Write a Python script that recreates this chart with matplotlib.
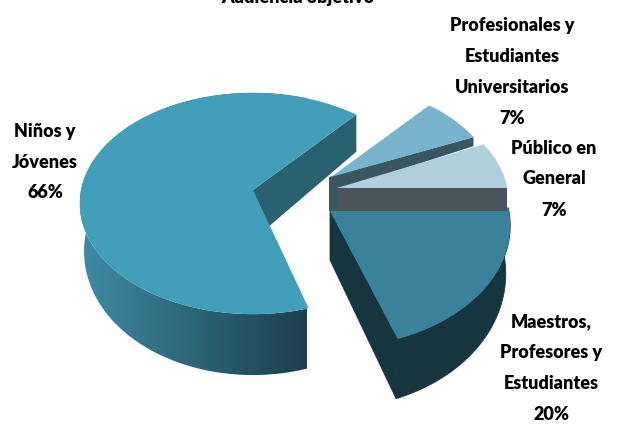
"""
3D looking pie, drawn by hand since matplotlib has no such pie
"""
import numpy as np
import matplotlib
matplotlib.use("Agg")
import matplotlib.pyplot as plt
from matplotlib.colors import LinearSegmentedColormap
from matplotlib.patches import Polygon

labels = ["Niños y\nJóvenes", "Maestros,\nProfesores y\nEstudiantes",
          "Público en\nGeneral", "Profesionales y\nEstudiantes\nUniversitarios"]
values = [66, 20, 7, 7]

START = 49
PERSP = 0.122
RX, RY = 172, 109

# apex of each exploded slice, in pixels
apexes = [(253, 190), (330, 211), (337, 188), (331, 177)]
# small fixes per slice, the original has real perspective
nudges = [0, 3, 1.4, 0]
sizes = [1.0, 1.04, 0.99, 0.95]
stretch = [1.0, 1.06, 1.0, 1.0]
top_colors = ["#439FB9", "#38829C", "#B0CFDC", "#78B5CC"]
side_colors = ["#2A6170", "#17353F", "#4A555A", "#3A5660"]
label_pos = [(45, 162), (551, 368), (554, 179), (512, 72)]
title = "Audiencia objetivo"

plt.rcParams["font.family"] = ["Lato", "DejaVu Sans"]


def project(apex, theta, scale=1.0, drop=False, yscale=1.0):
    u, v = np.cos(theta), np.sin(theta)
    s = 1 / (1 + PERSP * v)
    x = apex[0] + scale * RX * u * s
    y = apex[1] - scale * yscale * RY * v * s
    if drop:
        y = y + 46 - 18 * v
    return x, y


fig = plt.figure(figsize=(6.17, 4.3), dpi=100)
ax = fig.add_axes([0, 0, 1, 1])
ax.set_xlim(0, 617)
ax.set_ylim(430, 0)
ax.axis("off")

fracs = np.array(values) / sum(values) * 360
starts = START + np.concatenate([[0], np.cumsum(fracs)[:-1]]) + np.array(nudges)

# draw back slices first so the front ones overlap them
for i in [3, 2, 1, 0]:
    t = np.radians(np.linspace(starts[i], starts[i] + fracs[i], 120))
    apex = apexes[i]
    tx, ty = project(apex, t, sizes[i], yscale=stretch[i])
    bx, by = project(apex, t, 0.975 * sizes[i], True, stretch[i])
    top = np.column_stack([np.r_[apex[0], tx], np.r_[apex[1], ty]])
    z_top = 8

    if i == 0:
        # inner wall seen through the gap
        wall = [apex, (tx[0], ty[0]), (tx[0], ty[0] + 37), (apex[0], apex[1] + 50)]
        ax.add_patch(Polygon(wall, fc=side_colors[i], ec="none", zorder=2))
        # rim with a gradient from left to right
        rim = Polygon(np.column_stack([np.r_[tx, bx[::-1]], np.r_[ty, by[::-1]]]),
                      fc="none", ec="none", zorder=2)
        ax.add_patch(rim)
        grad = LinearSegmentedColormap.from_list("rim", ["#3F8BA5", "#2C6478", "#1D3F4C"])
        im = ax.imshow(np.linspace(0, 1, 256)[None, :], cmap=grad, aspect="auto",
                       extent=(80, 307, 430, 0), zorder=2)
        im.set_clip_path(rim)
        ax.set_xlim(0, 617)
        ax.set_ylim(430, 0)
    elif i == 1:
        # rim, then the cut face on the left as its own piece
        # this slice runs from the tip at the front round to the right
        rim = np.column_stack([np.r_[tx, bx[::-1]], np.r_[ty, by[::-1]]])
        ax.add_patch(Polygon(rim, fc=side_colors[i], ec=side_colors[i], lw=0.6, zorder=3))
        cut = [apex, (apex[0], apex[1] + 49), (bx[0], by[0]), (tx[0], ty[0])]
        ax.add_patch(Polygon(cut, fc=side_colors[i], ec=side_colors[i], lw=0.6, zorder=3))
        z_top = 4
    elif i == 2:
        ax.add_patch(Polygon([(330, 188), (tx[0], 188), (tx[0], 211), (330, 211)],
                             fc=side_colors[i], ec="none", zorder=6))
    else:
        ax.add_patch(Polygon([(329, 177), (tx[0], ty[0]), (tx[0], ty[0] + 9),
                              (337, 190), (337, 211), (329, 211)],
                             fc=side_colors[i], ec="none", zorder=7))
    ax.add_patch(Polygon(top, fc=top_colors[i], ec="none", zorder=z_top))

for lab, val, pos in zip(labels, values, label_pos):
    ax.text(pos[0], pos[1], f"{lab}\n{val}%", ha="center", va="center", fontsize=13,
            fontweight="heavy", color="black", linespacing=2.0, zorder=10)
ax.text(298, -3, title, ha="center", va="center", fontsize=13, fontweight="heavy", zorder=10)

fig.savefig("out.png", dpi=100)
